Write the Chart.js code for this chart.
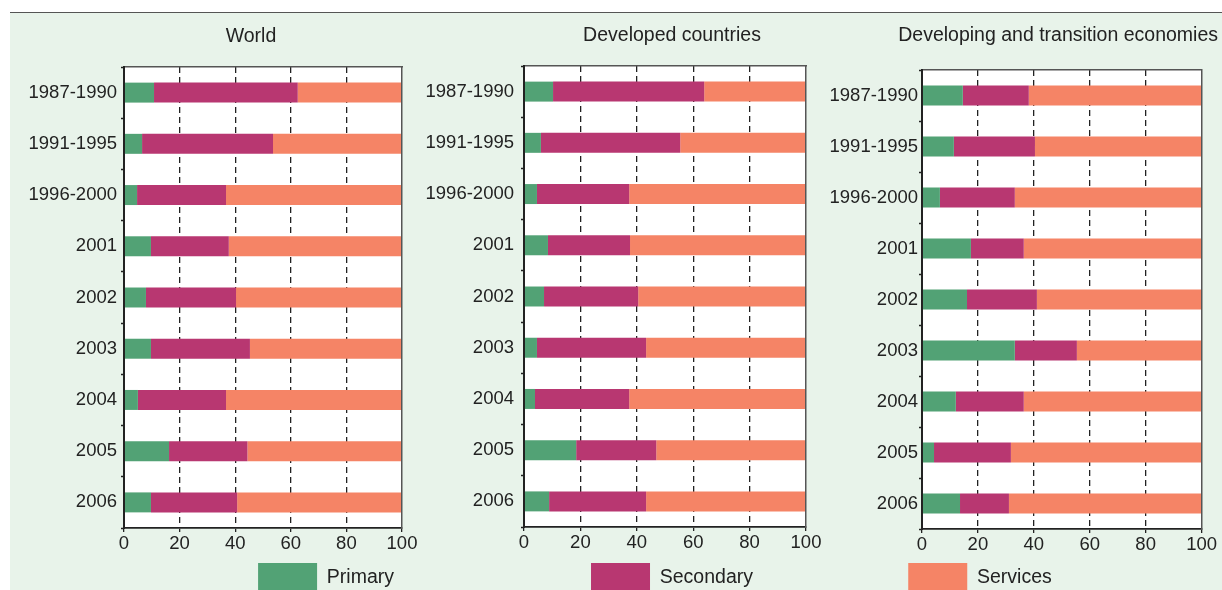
<!DOCTYPE html>
<html>
<head>
<meta charset="utf-8">
<script src="https://cdn.jsdelivr.net/npm/chart.js@4.4.1/dist/chart.umd.min.js"></script>
<style>
  html, body { margin:0; padding:0; width:1222px; height:590px; overflow:hidden; background:#ffffff; }
  #bg { position:absolute; left:10px; top:12px; width:1212px; height:578px; background:#e8f3ea; border-top:1.5px solid #555; }
  canvas { position:absolute; }
</style>
</head>
<body>
<div id="bg"></div>
<canvas id="c1"></canvas>
<canvas id="c2"></canvas>
<canvas id="c3"></canvas>
<script>
// ---- data ----
const categories = ["1987-1990","1991-1995","1996-2000","2001","2002","2003","2004","2005","2006"];
const seriesNames = ["Primary","Secondary","Services"];
const xTicks = [0,20,40,60,80,100];

const worldPrimary   = [10.8, 6.5, 4.7, 9.7, 7.9, 9.7, 5.0, 16.2, 9.7];
const worldSecondary = [51.7, 47.1, 32.0, 28.0, 32.4, 35.6, 31.7, 28.2, 31.0];
const worldServices  = [37.5, 46.4, 63.3, 62.3, 59.7, 54.7, 63.3, 55.6, 59.3];

const devPrimary   = [10.3, 6.0, 4.6, 8.5, 7.1, 4.6, 3.9, 18.5, 8.9];
const devSecondary = [53.6, 49.4, 32.7, 29.1, 33.4, 38.7, 33.4, 28.4, 34.4];
const devServices  = [36.1, 44.6, 62.7, 62.4, 59.5, 56.7, 62.7, 53.1, 56.7];

const dteePrimary   = [14.6, 11.4, 6.4, 17.5, 16.1, 33.2, 12.1, 4.3, 13.6];
const dteeSecondary = [23.6, 29.0, 26.8, 18.9, 25.0, 22.2, 24.3, 27.5, 17.5];
const dteeServices  = [61.8, 59.6, 66.8, 63.6, 58.9, 44.6, 63.6, 68.2, 68.9];

const titles = ["World","Developed countries","Developing and transition economies"];

// ---- styles ----
const colors = ["#52a275", "#b83771", "#f58466"];
const FONT = "'Liberation Sans', Arial, sans-serif";

function makeChart(id, cfg) {
  const cv = document.getElementById(id);
  cv.style.left = cfg.left + "px";
  cv.style.top = "13px";
  cv.style.width = cfg.width + "px";
  cv.style.height = "590px";
  cv.width = cfg.width; cv.height = 590;
  const data = cfg.data;
  return new Chart(cv, {
    type: 'bar',
    data: {
      labels: categories,
      datasets: seriesNames.map((n, i) => ({
        label: n,
        data: data[i],
        backgroundColor: colors[i],
        borderWidth: 0,
        barPercentage: 0.39,
        categoryPercentage: 1.0
      }))
    },
    plugins: [{
      id: 'plotBg',
      beforeDraw(chart) {
        const a = chart.chartArea, c = chart.ctx;
        c.save(); c.fillStyle = '#ffffff';
        c.fillRect(a.left, a.top, a.right - a.left, a.bottom - a.top);
        c.restore();
      }
    }],
    options: {
      indexAxis: 'y',
      responsive: false,
      animation: false,
      devicePixelRatio: 1,
      layout: { padding: 0 },
      plugins: {
        tooltip: { enabled: false },
        title: {
          display: true,
          text: cfg.title,
          fullSize: true,
          align: cfg.titleAlign,
          color: '#222',
          font: { family: FONT, size: 19.5, weight: 'normal' },
          padding: { top: cfg.titleTop, bottom: cfg.titleBottom }
        },
        legend: {
          display: true,
          position: 'bottom',
          align: cfg.legendAlign,
          fullSize: cfg.legendFull,
          labels: {
            filter: (item) => item.datasetIndex === cfg.legendIndex,
            boxWidth: 59,
            boxHeight: 30,
            padding: 8,
            color: '#222',
            font: { family: FONT, size: 19.5 }
          }
        }
      },
      scales: {
        x: {
          type: 'linear',
          stacked: true,
          position: 'bottom',
          min: 0, max: 100,
          afterBuildTicks: (s) => { s.ticks = xTicks.map(v => ({ value: v })); },
          afterFit: (s) => { s.height = cfg.xHeight; },
          ticks: { color: '#222', font: { family: FONT, size: 18.5 }, padding: 1, maxRotation: 0 },
          grid: {
            color: (c) => (c.tick && (c.tick.value === 0 || c.tick.value === 100)) ? 'rgba(0,0,0,0)' : '#222',
            lineWidth: 1.3,
            tickColor: '#222',
            tickLength: 4,
            tickWidth: 1.3,
            tickBorderDash: []
          },
          border: { display: true, color: '#222', width: 1.8, dash: [6, 4] }
        },
        x2: {
          type: 'linear',
          position: 'top',
          min: 0, max: 100,
          afterFit: (s) => { s.height = 0; },
          ticks: { display: false },
          grid: { display: false, drawTicks: false },
          border: { display: true, color: '#555', width: 1.5 }
        },
        y: {
          type: 'category',
          stacked: true,
          position: 'left',
          afterFit: (s) => { s.width = cfg.yWidth; },
          ticks: { color: '#222', font: { family: FONT, size: 18.5 }, padding: cfg.yPad },
          grid: { display: true, drawOnChartArea: false, offset: true, tickLength: 3, color: '#222', tickWidth: 1.3 },
          border: { display: true, color: '#222', width: 2, z: 1 }
        },
        y2: {
          type: 'linear',
          position: 'right',
          min: 0, max: 1,
          afterFit: (s) => { s.width = cfg.y2Width; },
          ticks: { display: false },
          grid: { display: false, drawTicks: false },
          border: { display: true, color: '#555', width: 1.5, z: 1 }
        }
      }
    }
  });
}

// World: plot 124-402
makeChart('c1', {
  left: 10, width: 482, yWidth: 114, y2Width: 90, yPad: 4,
  title: titles[0], titleAlign: 'center', titleTop: 12.3, titleBottom: 18.3, xHeight: 27,
  legendAlign: 'end', legendFull: false,
  legendIndex: 0, data: [worldPrimary, worldSecondary, worldServices]
});
// Developed: plot 524-806
makeChart('c2', {
  left: 414, width: 516, yWidth: 110, y2Width: 124, yPad: 7,
  title: titles[1], titleAlign: 'center', titleTop: 11.3, titleBottom: 18.3, xHeight: 28,
  legendAlign: 'center', legendFull: true,
  legendIndex: 1, data: [devPrimary, devSecondary, devServices]
});
// Developing: plot 922-1202
makeChart('c3', {
  left: 742, width: 476, yWidth: 180, y2Width: 16, yPad: 1,
  title: titles[2], titleAlign: 'end', titleTop: 11.3, titleBottom: 22.3, xHeight: 26,
  legendAlign: 'center', legendFull: true,
  legendIndex: 2, data: [dteePrimary, dteeSecondary, dteeServices]
});
</script>
</body>
</html>
